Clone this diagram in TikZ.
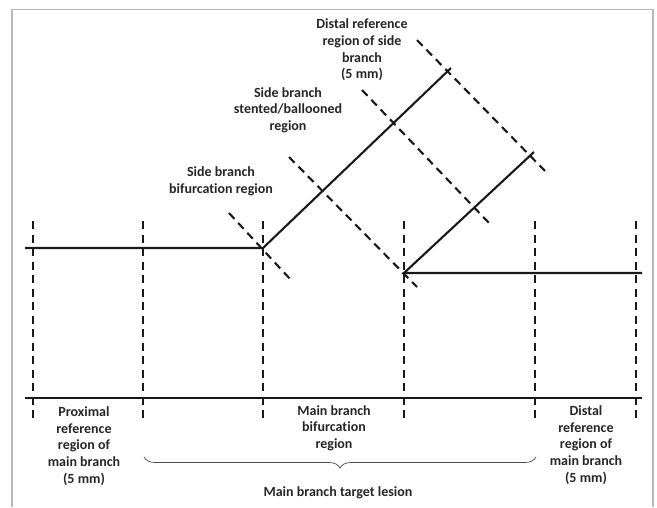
\documentclass[tikz,border=0pt]{standalone}
\usepackage{fontspec}
\setmainfont{Carlito}[Ligatures=NoCommon]
\usetikzlibrary{decorations.pathreplacing}
\begin{document}
\begin{tikzpicture}[x=1pt,y=-1pt,
  solidline/.style={line width=2.1pt,draw=black!90},
  dashline/.style={line width=2.1pt,draw=black!90,dash pattern=on 8pt off 5.5pt},
  lbl/.style={align=center,font=\fontsize{14}{16.7}\selectfont\bfseries,text=black!85,inner sep=0pt},
  frameline/.style={line width=1.5pt,draw=black!28}]
\useasboundingbox (0,0) rectangle (657,507);
% frame
\draw[frameline] (12,507) -- (12,9.5) -- (653,9.5) -- (653,507);
% coordinates
\coordinate (L0) at (25,248);
\coordinate (J1) at (263,248);
\coordinate (J2) at (404,273);
\coordinate (R0) at (642,273);
\coordinate (B0) at (25,398);
\coordinate (B1) at (642,398);
\coordinate (U1) at (451,68);
\coordinate (U2) at (534,152);
% vertical dashed lines
\foreach \n/\x in {v1/33,v2/143,v3/263,v4/404,v5/535,v6/636}{
  \coordinate (\n t) at (\x,221);
  \coordinate (\n b) at (\x,419);
  \draw[dashline] (\n t) -- (\n b);
}
% diagonal dashed lines
\coordinate (d1a) at (229,213); \coordinate (d1b) at (291,280);
\coordinate (d2a) at (289,157); \coordinate (d2b) at (417,287);
\coordinate (d3a) at (362,90);  \coordinate (d3b) at (489,223);
\coordinate (d4a) at (417,40);  \coordinate (d4b) at (545,171);
\draw[dashline] (d1a) -- (d1b);
\draw[dashline] (d2a) -- (d2b);
\draw[dashline] (d3a) -- (d3b);
\draw[dashline] (d4a) -- (d4b);
% solid vessel lines
\draw[solidline] (L0) -- (J1) -- (U1);
\draw[solidline] (U2) -- (J2) -- (R0);
\draw[solidline,line width=2.5pt] (B0) -- (B1);
% brace
\coordinate (brL) at (144,457);
\coordinate (brR) at (536,457);
\draw[line width=0.7pt,draw=black!70,decorate,decoration={brace,amplitude=11pt,aspect=0.5}] (brR) -- (brL);
% labels
\node[lbl] (tDistSide) at (362,50) {Distal reference\\region of side\\branch\\(5 mm)};
\node[lbl] (tStent) at (288,110) {Side branch\\stented/ballooned\\region};
\node[lbl] (tSideBif) at (221,181) {Side branch\\bifurcation region};
\node[lbl] (tProx) at (84,446) {Proximal\\reference\\region of\\main branch\\(5 mm)};
\node[lbl] (tMainBif) at (334,428) {Main branch\\bifurcation\\region};
\node[lbl] (tDistMain) at (586,445) {Distal\\reference\\region of\\main branch\\(5 mm)};
\node[lbl] (tTarget) at (338,493) {Main branch target lesion};
\end{tikzpicture}
\end{document}
